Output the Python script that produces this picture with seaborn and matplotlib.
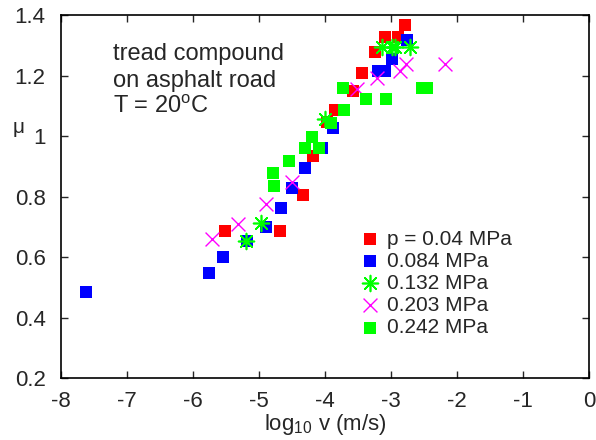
import matplotlib
matplotlib.use("Agg")
import matplotlib.pyplot as plt
import seaborn as sns
import pandas as pd
from matplotlib.ticker import FuncFormatter

# data: log10 v (m/s), friction coefficient mu
x_004 = [-2.79, -3.09, -2.89, -3.24, -3.44, -3.58, -3.85, -3.97, -4.18, -4.33, -4.68, -5.52]
y_004 = [1.367, 1.327, 1.327, 1.278, 1.208, 1.149, 1.086, 1.046, 0.934, 0.805, 0.686, 0.686]

x_0084 = [-7.62, -5.76, -5.55, -5.18, -4.89, -4.67, -4.50, -4.30, -4.05, -3.88, -3.20, -3.09, -2.98, -2.76]
y_0084 = [0.484, 0.547, 0.600, 0.653, 0.699, 0.762, 0.828, 0.894, 0.960, 1.026, 1.215, 1.215, 1.255, 1.317]

x_0132 = [-5.20, -4.97, -4.00, -3.14, -2.99, -2.94, -2.71]
y_0132 = [0.653, 0.712, 1.056, 1.294, 1.294, 1.294, 1.294]

x_0203 = [-5.71, -5.32, -4.89, -4.50, -3.52, -3.21, -2.86, -2.77, -2.18]
y_0203 = [0.659, 0.709, 0.775, 0.848, 1.155, 1.192, 1.215, 1.238, 1.238]

x_0242 = [-4.77, -4.79, -4.55, -4.30, -4.20, -4.09, -3.91, -3.71, -3.73, -3.38, -3.08, -2.53, -2.45]
y_0242 = [0.835, 0.878, 0.917, 0.960, 0.997, 0.960, 1.043, 1.086, 1.159, 1.122, 1.122, 1.159, 1.159]

labels = ["p = 0.04 MPa", "0.084 MPa", "0.132 MPa", "0.203 MPa", "0.242 MPa"]
xticks = [-8, -7, -6, -5, -4, -3, -2, -1, 0]
yticks = [0.2, 0.4, 0.6, 0.8, 1.0, 1.2, 1.4]

sns.set_style("ticks")
plt.rcParams['font.family'] = ['Liberation Sans', 'DejaVu Sans']
plt.rcParams['mathtext.default'] = 'regular'
plt.rcParams['axes.linewidth'] = 1.2

fig = plt.figure(figsize=(5.96, 4.40), dpi=100)
ax = fig.add_axes([61/596, 1-378/440, 528/596, 363/440])

series = [
    (x_004, y_004, "#ff0000", "s", 85, 0),
    (x_0084, y_0084, "#0000ff", "s", 85, 0),
    (x_0132, y_0132, "#00ff00", (8, 2, 0), 130, 1.2),
    (x_0203, y_0203, "#ff00ff", "x", 100, 1.0),
    (x_0242, y_0242, "#00ff00", "s", 85, 0),
]
for (xs, ys, c, m, s, lw), lab in zip(series, labels):
    df = pd.DataFrame({"x": xs, "y": ys})
    if lw == 0:
        sns.scatterplot(data=df, x="x", y="y", color=c, marker=m, s=s, linewidth=0, ax=ax, label=lab)
    else:
        sns.scatterplot(data=df, x="x", y="y", color=c, marker=m, s=s, linewidth=lw, edgecolor=c, ax=ax, label=lab)

ax.set_xlim(-8, 0)
ax.set_ylim(0.2, 1.4)
ax.set_xticks(xticks)
ax.set_yticks(yticks)
ax.yaxis.set_major_formatter(FuncFormatter(lambda v, p: "%g" % v))
ax.xaxis.set_major_formatter(FuncFormatter(lambda v, p: "%g" % v))
ax.tick_params(direction="in", length=5, width=1.0, labelsize=16, top=True, right=True)
ax.tick_params(axis="x", pad=9)
ax.tick_params(axis="y", pad=11)
for sp in ax.spines.values():
    sp.set_visible(True)
    sp.set_color("black")

ax.set_xlabel("log$_{10}$ v (m/s)", fontsize=16, labelpad=0)
ax.set_ylabel("μ", fontsize=15, rotation=0, va="center", ha="center")
ax.yaxis.set_label_coords(-0.08, 0.689)

ax.text(0.0985, 0.922, "tread compound\non asphalt road\nT = 20$^o$C", transform=ax.transAxes,
        fontsize=17, va="top", ha="left", linespacing=1.26)

leg = ax.legend(loc="upper left", bbox_to_anchor=(0.545, 0.432), frameon=False, fontsize=15,
                handletextpad=0.25, labelspacing=0.15, handlelength=1.2, borderaxespad=0)

fig.savefig("out.png", dpi=100)
